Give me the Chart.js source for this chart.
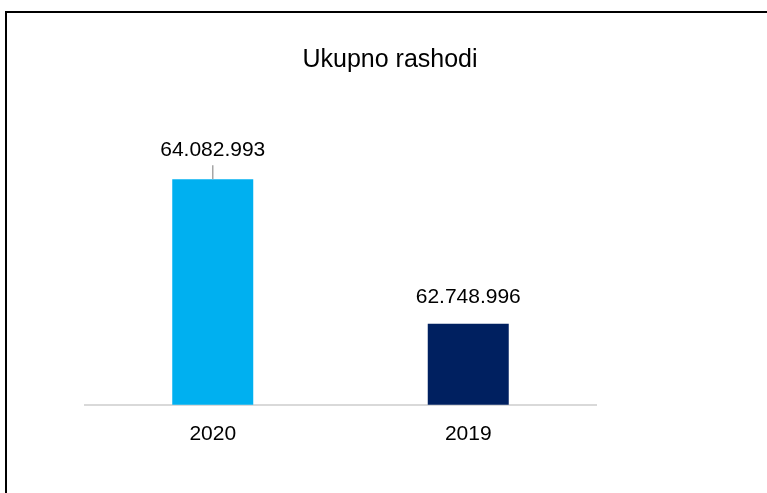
<!DOCTYPE html>
<html>
<head>
<meta charset="utf-8">
<script src="https://cdn.jsdelivr.net/npm/chart.js@4/dist/chart.umd.min.js"></script>
<style>
  html, body { margin: 0; padding: 0; background: #fff; }
  #wrap { width: 767px; height: 493px; }
</style>
</head>
<body>
<div id="wrap"><canvas id="chart" width="767" height="493"></canvas></div>
<script>
const chartTitle = 'Ukupno rashodi';
const years = ['2020', '2019'];
const expenses = [64082993, 62748996];
const barColors = ['#00b0f0', '#002060'];
const valueLabels = ['64.082.993', '62.748.996'];

const FONT = '"Liberation Sans", Arial, sans-serif';

// frame (only top and left edges visible), title and value labels
const extras = {
    id: 'extras',
    afterDraw(chart) {
        const ctx = chart.ctx;
        ctx.save();
        ctx.strokeStyle = '#000';
        ctx.lineWidth = 2;
        ctx.beginPath();
        ctx.moveTo(6, 493);
        ctx.lineTo(6, 12);
        ctx.lineTo(767, 12);
        ctx.stroke();

        ctx.fillStyle = '#000';
        ctx.textAlign = 'center';
        ctx.textBaseline = 'middle';
        ctx.font = '25px ' + FONT;
        ctx.fillText(chartTitle, 390, 60);

        const meta = chart.getDatasetMeta(0);
        ctx.font = '21px ' + FONT;
        meta.data.forEach((bar, i) => {
            if (i === 0) {
                ctx.fillText(valueLabels[i], bar.x, bar.y - 29);
                ctx.strokeStyle = '#a6a6a6';
                ctx.lineWidth = 1.5;
                ctx.beginPath();
                ctx.moveTo(bar.x, bar.y - 14);
                ctx.lineTo(bar.x, bar.y);
                ctx.stroke();
            } else {
                ctx.fillText(valueLabels[i], bar.x, bar.y - 26);
            }
        });
        ctx.restore();
    }
};

new Chart(document.getElementById('chart'), {
    type: 'bar',
    data: {
        labels: years,
        datasets: [{
            data: expenses,
            backgroundColor: barColors,
            borderWidth: 0,
            barPercentage: 0.317,
            categoryPercentage: 1
        }]
    },
    options: {
        responsive: false,
        animation: false,
        layout: { padding: { left: 85, right: 171, top: 134, bottom: 29 } },
        plugins: {
            legend: { display: false },
            tooltip: { enabled: false },
            title: { display: false }
        },
        scales: {
            x: {
                grid: { display: false, drawTicks: false },
                border: { display: true, color: '#d9d9d9', width: 2 },
                ticks: {
                    color: '#000',
                    padding: 17,
                    font: { family: FONT, size: 21 }
                }
            },
            y: {
                display: false,
                min: 62000000,
                max: 64500000
            }
        }
    },
    plugins: [extras]
});
</script>
</body>
</html>
